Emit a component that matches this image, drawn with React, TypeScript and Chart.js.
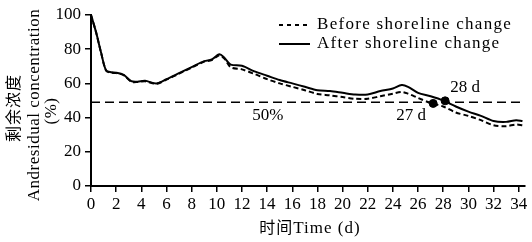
import React, { useEffect, useRef } from "react";
import { Chart, registerables } from "chart.js";

Chart.register(...registerables);

const days = [0, 0.4, 0.8, 1.2, 1.6, 2, 2.6, 3.2, 3.7, 4.3, 5.2, 6, 7, 8, 9, 9.6, 10.2, 10.6, 11.1, 12, 13, 14, 15, 16, 17, 18, 19, 20, 21, 22, 23, 24, 24.7, 25.2, 26, 27, 28, 29, 30, 31, 32, 33, 33.8, 34.3];
const afterVals = [100, 90, 78, 67.5, 66.5, 66.3, 65, 61.3, 61, 61.5, 60, 62.5, 66, 69.5, 73, 74, 77, 75, 71, 70.3, 67, 64.5, 62, 60, 58, 56, 55.5, 54.5, 53.5, 53.5, 55.5, 57, 59, 58, 54.5, 52.5, 50, 46.5, 43.5, 41, 38, 37.5, 38.5, 38];
const beforeVals = [100, 90, 78, 67.5, 66.3, 66, 64.8, 61, 60.8, 61.2, 59.8, 62.2, 65.7, 69.2, 72.7, 73.6, 76.5, 74.5, 69.5, 68.2, 65.5, 62.5, 60, 58, 56, 53.8, 53, 52, 51, 51, 52.5, 54, 55, 54, 51.5, 48.5, 46.5, 43, 41, 38.5, 35.5, 35, 36, 35.5];
const thresholdValue = 49;
const thresholdDays = [0, 34.5];
const crossDays = [27.2, 28.15];
const crossVals = [48.3, 49.8];
const noteTexts = ["50%", "27 d", "28 d"];
const noteDays = [14.05, 25.45, 29.75];
const noteVals = [41.5, 41.5, 57.3];
const xTickValues = [0, 2, 4, 6, 8, 10, 12, 14, 16, 18, 20, 22, 24, 26, 28, 30, 32, 34];
const yTickValues = [0, 20, 40, 60, 80, 100];
const legendLabels = ["Before shoreline change", "After shoreline change"];
const yTitleLines = ["剩余浓度", "Andresidual concentration", "(%)"];
const xTitleZh = "时间";
const xTitleEn = "Time (d)";

const SERIF = '"Liberation Serif", "Noto Sans CJK SC", serif';

const overlayPlugin = {
  id: "overlay",
  afterDraw(chart: any) {
    const ctx = chart.ctx;
    const xs = chart.scales.x;
    const ys = chart.scales.y;
    ctx.save();
    ctx.fillStyle = "#000";
    ctx.strokeStyle = "#000";
    ctx.textAlign = "center";
    ctx.textBaseline = "middle";
    ctx.font = `17px ${SERIF}`;
    noteTexts.forEach((t, i) => {
      ctx.fillText(t, xs.getPixelForValue(noteDays[i]), ys.getPixelForValue(noteVals[i]));
    });

    // legend
    const legY = [25, 44];
    ctx.lineWidth = 2;
    ctx.beginPath();
    ctx.setLineDash([4, 4]);
    ctx.moveTo(279, legY[0]);
    ctx.lineTo(310, legY[0]);
    ctx.stroke();
    ctx.beginPath();
    ctx.setLineDash([]);
    ctx.moveTo(279, legY[1]);
    ctx.lineTo(310, legY[1]);
    ctx.stroke();
    ctx.textAlign = "left";
    (ctx as any).letterSpacing = "1.3px";
    legendLabels.forEach((t, i) => {
      ctx.fillText(t, 317, legY[i]);
    });

    // y title
    ctx.textAlign = "center";
    const yCentersX = [15, 35, 52];
    const yCentersY = [108, 105, 111];
    yTitleLines.forEach((t, i) => {
      ctx.save();
      ctx.translate(yCentersX[i], yCentersY[i]);
      ctx.rotate(-Math.PI / 2);
      (ctx as any).letterSpacing = i === 0 ? "1px" : "0.5px";
      ctx.font = i === 0 ? `16px ${SERIF}` : `17px ${SERIF}`;
      ctx.fillText(t, 0, 0);
      ctx.restore();
    });

    // x title
    ctx.textAlign = "left";
    (ctx as any).letterSpacing = "1px";
    ctx.font = `16px ${SERIF}`;
    const zhW = ctx.measureText(xTitleZh).width;
    ctx.font = `17px ${SERIF}`;
    const enW = ctx.measureText(xTitleEn).width;
    const startX = 310 - (zhW + enW) / 2;
    ctx.font = `16px ${SERIF}`;
    ctx.fillText(xTitleZh, startX, 229);
    ctx.font = `17px ${SERIF}`;
    ctx.fillText(xTitleEn, startX + zhW, 229);
    ctx.restore();
  },
};

export default function App() {
  const ref = useRef<HTMLCanvasElement | null>(null);
  useEffect(() => {
    if (!ref.current) return;
    const chart = new Chart(ref.current, {
      type: "line",
      data: {
        datasets: [
          {
            label: legendLabels[0],
            data: days.map((d, i) => ({ x: d, y: beforeVals[i] })),
            borderColor: "#000",
            borderWidth: 2,
            borderDash: [5, 3],
            pointRadius: 0,
            tension: 0.3,
            fill: false,
          },
          {
            label: legendLabels[1],
            data: days.map((d, i) => ({ x: d, y: afterVals[i] })),
            borderColor: "#000",
            borderWidth: 2,
            pointRadius: 0,
            tension: 0.3,
            fill: false,
          },
          {
            label: "threshold",
            data: thresholdDays.map((d) => ({ x: d, y: thresholdValue })),
            borderColor: "#000",
            borderWidth: 1.6,
            borderDash: [9, 5],
            pointRadius: 0,
            fill: false,
          },
          {
            label: "cross",
            data: crossDays.map((d, i) => ({ x: d, y: crossVals[i] })),
            showLine: false,
            pointRadius: 4,
            pointBackgroundColor: "#000",
            pointBorderColor: "#000",
            borderColor: "#000",
          },
        ],
      },
      options: {
        responsive: false,
        animation: false,
        devicePixelRatio: 1,
        layout: { padding: { top: 15, right: 7, left: 0, bottom: 0 } },
        plugins: { legend: { display: false }, tooltip: { enabled: false } },
        scales: {
          x: {
            type: "linear",
            min: 0,
            max: 34.5,
            afterBuildTicks: (scale: any) => {
              scale.ticks = xTickValues.map((v) => ({ value: v }));
            },
            afterFit: (scale: any) => {
              scale.height = 56;
            },
            ticks: {
              font: { family: SERIF, size: 17 },
              color: "#000",
              padding: 2,
              maxRotation: 0,
              autoSkip: false,
            },
            grid: { drawOnChartArea: false, drawTicks: true, tickLength: 6, color: "#000", lineWidth: 1.5 },
            border: { display: true, color: "#000", width: 2 },
          },
          y: {
            type: "linear",
            min: 0,
            max: 100,
            afterBuildTicks: (scale: any) => {
              scale.ticks = yTickValues.map((v) => ({ value: v }));
            },
            afterFit: (scale: any) => {
              scale.width = 91;
            },
            ticks: {
              font: { family: SERIF, size: 17 },
              color: "#000",
              padding: 4,
            },
            grid: { drawOnChartArea: false, drawTicks: true, tickLength: 6, color: "#000", lineWidth: 1.5 },
            border: { display: true, color: "#000", width: 2 },
          },
        },
      },
      plugins: [overlayPlugin],
    } as any);
    return () => chart.destroy();
  }, []);
  return (
    <div style={{ position: "fixed", left: 0, top: 0, width: 532, height: 242, background: "#fff" }}>
      <canvas ref={ref} width={532} height={242} style={{ display: "block" }} />
    </div>
  );
}
